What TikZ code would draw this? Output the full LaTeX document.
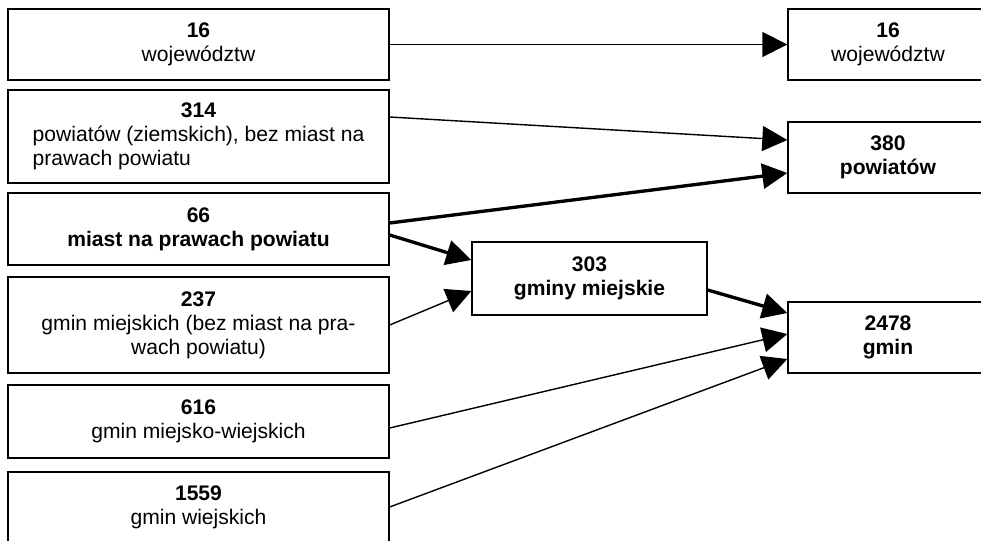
\documentclass[tikz,border=0pt]{standalone}
\usepackage{fontspec}
\setmainfont{Liberation Sans}
\usepackage{tikz}
\usetikzlibrary{arrows.meta, positioning}
\tikzset{
  block/.style={rectangle, draw=black, fill=white, line width=0.8pt,
    align=center, inner sep=0pt, minimum height=1.42cm,
    font=\fontsize{12}{13.6}\selectfont},
  leftblock/.style={block, minimum width=7.62cm},
  rightblock/.style={block, minimum width=4cm},
  arrow/.style={-{Triangle[length=0.5cm, width=0.5cm]}, line width=0.8pt, color=black},
  thickarrow/.style={arrow, line width=1.9pt}
}

\begin{document}
\begin{tikzpicture}[x=0.02cm, y=-0.02cm]
  \useasboundingbox (0,0) rectangle (981,541);
  \clip (0,0) rectangle (981,541);

  % Left column
  \node[leftblock] (woj) at (198.5,44.5) {\textbf{16}\\województw};
  \node[leftblock, minimum height=1.86cm] (pow) at (198.5,136.5)
    {\textbf{314}\\powiatów (ziemskich), bez miast na\\\rlap{prawach powiatu}\phantom{powiatów (ziemskich), bez miast na}};
  \node[leftblock, minimum height=1.44cm] (mnpp) at (198.5,229)
    {\textbf{66}\\\textbf{miast na prawach powiatu}};
  \node[leftblock, minimum height=1.92cm] (gmm) at (198.5,325)
    {\textbf{237}\\gmin miejskich (bez miast na pra-\\wach powiatu)};
  \node[leftblock, minimum height=1.46cm] (gmmw) at (198.5,421.5)
    {\textbf{616}\\gmin miejsko-wiejskich};
  \node[leftblock, minimum height=1.40cm] (gmw) at (198.5,507)
    {\textbf{1559}\\gmin wiejskich};

  % Middle
  \node[block, minimum width=4.7cm, minimum height=1.46cm] (gmiejskie) at (589.5,278.5)
    {\textbf{303}\\\textbf{gminy miejskie}};

  % Right column
  \node[rightblock] (rwoj) at (888,44.5) {\textbf{16}\\województw};
  \node[rightblock] (rpow) at (888,157.5) {\textbf{380}\\\textbf{powiatów}};
  \node[rightblock] (rgmin) at (888,337.5) {\textbf{2478}\\\textbf{gmin}};

  % Connectors
  \draw[arrow] (woj.east) -- (rwoj.west);
  \draw[arrow] ([yshift=0.39cm]pow.east) -- ([yshift=0.35cm]rpow.west);
  \draw[thickarrow] ([yshift=0.12cm]mnpp.east) -- ([yshift=-0.31cm]rpow.west);
  \draw[thickarrow] ([yshift=-0.12cm]mnpp.east) -- ([yshift=0.37cm]gmiejskie.west);
  \draw[arrow] (gmm.east) -- ([yshift=-0.25cm]gmiejskie.west);
  \draw[thickarrow] ([yshift=-0.23cm]gmiejskie.east) -- ([yshift=0.49cm]rgmin.west);
  \draw[arrow] ([yshift=-0.13cm]gmmw.east) -- ([yshift=0.07cm]rgmin.west);
  \draw[arrow] (gmw.east) -- ([yshift=-0.43cm]rgmin.west);
\end{tikzpicture}
\end{document}
